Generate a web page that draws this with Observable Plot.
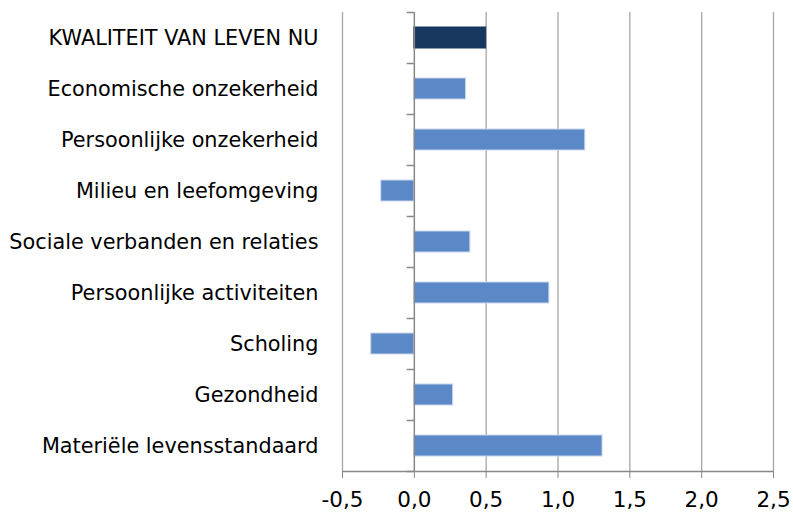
<!DOCTYPE html>
<html><head><meta charset="utf-8">
<script src="https://cdn.jsdelivr.net/npm/d3@7"></script>
<script src="https://cdn.jsdelivr.net/npm/@observablehq/plot@0.6"></script>
<style>body{margin:0;background:#fff}</style>
</head><body><div id="chart"></div>
<script>
const categories = ["KWALITEIT VAN LEVEN NU","Economische onzekerheid","Persoonlijke onzekerheid","Milieu en leefomgeving","Sociale verbanden en relaties","Persoonlijke activiteiten","Scholing","Gezondheid","Materiële levensstandaard"];
const values = [0.50,0.36,1.19,-0.23,0.39,0.94,-0.30,0.27,1.31];
const xTicks = [-0.5,0,0.5,1,1.5,2,2.5];
const data = categories.map((c,i)=>({cat:c, value:values[i], total:i===0}));
const fmt = d => d.toFixed(1).replace(".", ",");
const chart = Plot.plot({
  width: 793, height: 515,
  marginTop: 12, marginBottom: 44, marginLeft: 342, marginRight: 20,
  style: {fontFamily: "DejaVu Sans", fontSize: "20px", color: "#000", background: "#fff"},
  x: {domain: [-0.5, 2.5], ticks: xTicks, tickFormat: fmt},
  y: {domain: categories, paddingInner: 0.58, paddingOuter: 0.29},
  marks: [
    Plot.ruleX(xTicks.filter(d=>d!==0), {stroke: "#a6a6a6", strokeWidth: 1.3}),
    Plot.ruleY(categories, {y: d=>d, x1: -0.05, x2: 0, dy: -25.5, stroke: "#888", strokeWidth: 1.5}),
    Plot.ruleY([categories[categories.length-1]], {y: d=>d, x1: -0.05, x2: 0, dy: 25.5, stroke: "#888", strokeWidth: 1.5}),
    Plot.barX(data, {x: "value", y: "cat", fill: d=>d.total ? "#17375e" : "#5b88c6", stroke: d=>d.total ? "#17375e" : "#c9d7ee", strokeWidth: 1}),
    Plot.ruleX([0], {stroke: "#888", strokeWidth: 1.5}),
    Plot.axisY({tickSize: 0, tickPadding: 24, fontSize: 20.8, label: null}),
    Plot.axisX({ticks: xTicks, tickFormat: fmt, tickSize: 7, tickPadding: 13, fontSize: 21.5, label: null, stroke: "#888"}),
    Plot.ruleY([0], {y: ()=>categories[categories.length-1], dy: 25.5, stroke: "#888", strokeWidth: 1.5})
  ]
});
document.getElementById("chart").appendChild(chart);
</script></body></html>
